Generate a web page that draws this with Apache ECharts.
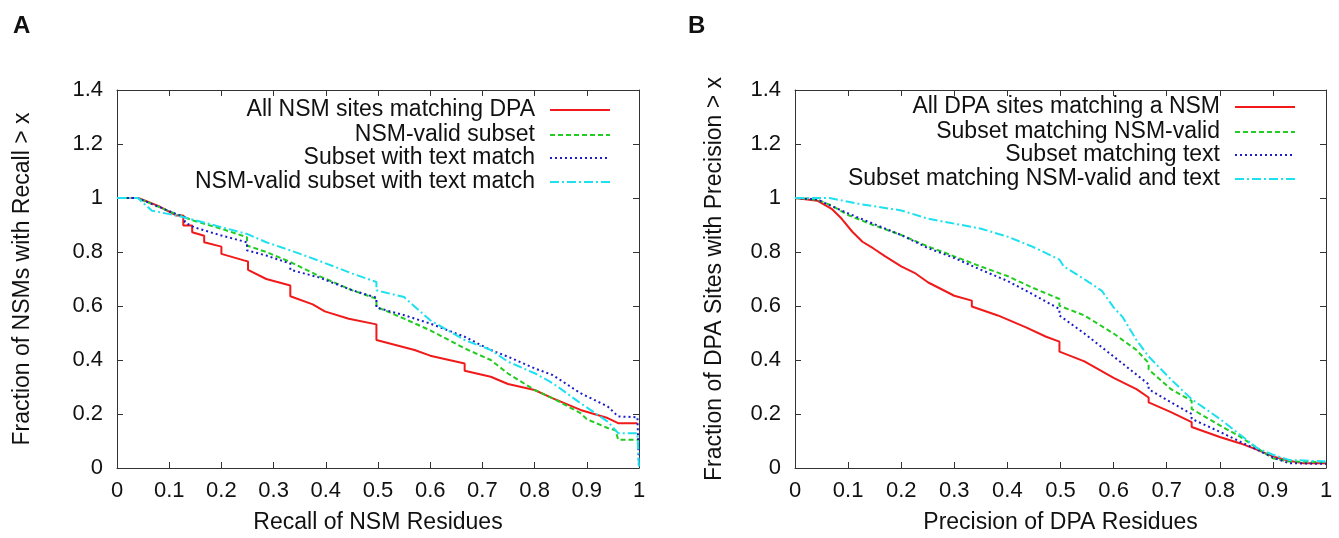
<!DOCTYPE html>
<html>
<head>
<meta charset="utf-8">
<script src="https://cdn.jsdelivr.net/npm/echarts@6/dist/echarts.min.js"></script>
<style>
html,body{margin:0;padding:0;background:#fff;}
#chart{width:1339px;height:538px;}
</style>
</head>
<body>
<div id="chart"></div>
<script>
// ---- Panel A data: Recall of NSM residues ----
const aNames = ['All NSM sites matching DPA','NSM-valid subset','Subset with text match','NSM-valid subset with text match'];
const aRed = [[0,1],[0.04,1],[0.054,0.99],[0.08,0.97],[0.114,0.935],[0.127,0.935],[0.127,0.898],[0.144,0.898],[0.144,0.873],[0.167,0.86],[0.167,0.836],[0.2,0.82],[0.2,0.793],[0.243,0.769],[0.251,0.765],[0.251,0.734],[0.286,0.70],[0.332,0.676],[0.332,0.636],[0.375,0.606],[0.398,0.58],[0.444,0.553],[0.497,0.532],[0.497,0.474],[0.57,0.437],[0.6,0.416],[0.666,0.387],[0.666,0.36],[0.716,0.338],[0.749,0.311],[0.8,0.289],[0.835,0.258],[0.888,0.215],[0.94,0.185],[0.96,0.166],[0.997,0.166]];
const aGreen = [[0,1],[0.04,1],[0.054,0.988],[0.114,0.94],[0.147,0.916],[0.2,0.886],[0.249,0.855],[0.249,0.824],[0.286,0.80],[0.332,0.763],[0.385,0.713],[0.451,0.658],[0.497,0.627],[0.497,0.597],[0.55,0.553],[0.6,0.51],[0.666,0.443],[0.716,0.40],[0.749,0.35],[0.8,0.289],[0.835,0.258],[0.888,0.203],[0.9,0.181],[0.94,0.148],[0.955,0.14],[0.96,0.105],[1,0.105]];
const aBlue = [[0,1],[0.04,1],[0.054,0.988],[0.114,0.94],[0.13,0.93],[0.13,0.91],[0.147,0.892],[0.2,0.861],[0.249,0.836],[0.249,0.806],[0.286,0.787],[0.332,0.757],[0.332,0.734],[0.385,0.707],[0.451,0.658],[0.497,0.631],[0.497,0.594],[0.55,0.566],[0.6,0.535],[0.666,0.486],[0.716,0.437],[0.749,0.412],[0.8,0.369],[0.835,0.344],[0.888,0.277],[0.94,0.228],[0.96,0.191],[0.997,0.188],[1,0]];
const aCyan = [[0,1],[0.04,1],[0.054,0.975],[0.067,0.953],[0.114,0.935],[0.147,0.919],[0.2,0.892],[0.249,0.867],[0.286,0.836],[0.332,0.806],[0.385,0.769],[0.451,0.72],[0.497,0.689],[0.497,0.658],[0.55,0.633],[0.6,0.547],[0.666,0.474],[0.716,0.437],[0.749,0.394],[0.8,0.351],[0.835,0.314],[0.888,0.24],[0.94,0.172],[0.96,0.129],[0.997,0.129],[1,0]];

// ---- Panel B data: Precision of DPA residues ----
const bNames = ['All DPA sites matching a NSM','Subset matching NSM-valid','Subset matching text','Subset matching NSM-valid and text'];
const bRed = [[0,1],[0.042,0.99],[0.069,0.96],[0.088,0.923],[0.108,0.875],[0.127,0.838],[0.147,0.814],[0.17,0.784],[0.2,0.747],[0.225,0.723],[0.251,0.687],[0.3,0.638],[0.333,0.62],[0.333,0.598],[0.382,0.565],[0.434,0.522],[0.473,0.486],[0.498,0.468],[0.498,0.431],[0.545,0.395],[0.6,0.334],[0.643,0.292],[0.666,0.261],[0.666,0.243],[0.708,0.207],[0.747,0.17],[0.747,0.152],[0.8,0.115],[0.839,0.091],[0.871,0.067],[0.9,0.043],[0.93,0.027],[0.956,0.018],[1,0.018]];
const bGreen = [[0,1],[0.042,0.994],[0.069,0.972],[0.101,0.936],[0.147,0.9],[0.2,0.863],[0.251,0.82],[0.3,0.784],[0.349,0.747],[0.4,0.711],[0.447,0.668],[0.498,0.626],[0.498,0.601],[0.545,0.565],[0.6,0.498],[0.643,0.437],[0.666,0.389],[0.666,0.365],[0.708,0.292],[0.747,0.249],[0.747,0.219],[0.8,0.158],[0.839,0.115],[0.871,0.073],[0.9,0.036],[0.93,0.024],[1,0.022]];
const bBlue = [[0,1],[0.042,0.994],[0.069,0.97],[0.101,0.942],[0.147,0.905],[0.2,0.863],[0.251,0.814],[0.3,0.778],[0.349,0.735],[0.4,0.693],[0.447,0.644],[0.498,0.589],[0.498,0.565],[0.545,0.498],[0.6,0.413],[0.643,0.346],[0.666,0.31],[0.666,0.292],[0.708,0.243],[0.747,0.2],[0.747,0.182],[0.8,0.134],[0.839,0.097],[0.871,0.067],[0.9,0.039],[0.93,0.018],[1,0.015]];
const bCyan = [[0,1],[0.065,1],[0.121,0.978],[0.2,0.954],[0.251,0.923],[0.3,0.905],[0.349,0.887],[0.4,0.857],[0.447,0.82],[0.498,0.772],[0.506,0.747],[0.545,0.699],[0.578,0.656],[0.6,0.595],[0.617,0.559],[0.643,0.474],[0.666,0.413],[0.708,0.328],[0.747,0.255],[0.8,0.182],[0.839,0.122],[0.871,0.073],[0.9,0.049],[0.93,0.03],[1,0.024]];

// ---- Axis ticks ----
const xTicks = [0,0.1,0.2,0.3,0.4,0.5,0.6,0.7,0.8,0.9,1];
const yTicks = [0,0.2,0.4,0.6,0.8,1,1.2,1.4];
const axisTitles = {ax:'Recall of NSM Residues', ay:'Fraction of NSMs with Recall > x', bx:'Precision of DPA Residues', by:'Fraction of DPA Sites with Precision > x'};

const colors = ['#f01a1a','#22cc22','#1c1cc8','#1ee0ee'];
const dashes = ['solid',[5,3],[2,3],[9,3,2,3]];
const FONT = 'Liberation Sans, Arial, Helvetica, sans-serif';
const FS = 22;
const FST = 23;

function xAx(grid, name, top) {
  return {
    type:'value', gridIndex:grid, min:0, max:1, interval:0.1,
    position: top ? 'top' : 'bottom',
    name: top ? '' : name, nameLocation:'middle', nameGap:43,
    nameTextStyle:{fontFamily:FONT, fontSize:FST, color:'#111'},
    axisLine:{show:true, onZero:false, lineStyle:{color:'#333', width:1}},
    axisTick:{show:true, inside:true, length:6, lineStyle:{color:'#333'}},
    axisLabel:{show:!top, margin:12, fontFamily:FONT, fontSize:FS, color:'#111',
      formatter: v => { const t = xTicks.find(k => Math.abs(k - v) < 1e-9); return t === undefined ? '' : String(t); }},
    splitLine:{show:false}
  };
}
function yAx(grid, name, right, gap) {
  return {
    type:'value', gridIndex:grid, min:0, max:1.4, interval:0.2,
    position: right ? 'right' : 'left',
    name: right ? '' : name, nameLocation:'middle', nameGap:gap,
    nameTextStyle:{fontFamily:FONT, fontSize:FST, color:'#111'},
    axisLine:{show:true, onZero:false, lineStyle:{color:'#333', width:1}},
    axisTick:{show:true, inside:true, length:6, lineStyle:{color:'#333'}},
    axisLabel:{show:!right, margin:14, fontFamily:FONT, fontSize:FS, color:'#111',
      formatter: v => { const t = yTicks.find(k => Math.abs(k - v) < 1e-9); return t === undefined ? '' : String(t); }},
    splitLine:{show:false}
  };
}

const seriesData = [[aRed,aGreen,aBlue,aCyan],[bRed,bGreen,bBlue,bCyan]];
const names = [aNames, bNames];
const series = [];
for (let g = 0; g < 2; g++) {
  for (let i = 0; i < 4; i++) {
    series.push({
      type:'line', name:names[g][i], xAxisIndex:g*2, yAxisIndex:g*2,
      data:seriesData[g][i], symbol:'none', smooth:false, z: 2+i,
      lineStyle:{color:colors[i], width:2, type:dashes[i]},
      itemStyle:{color:colors[i]}
    });
  }
}

const legends = [];
const legendRight = [728, 43];
const legendTops = [[98,123,146,170],[95,120,143,167]];
for (let g = 0; g < 2; g++) {
  for (let i = 0; i < 4; i++) {
    legends.push({
      data:[names[g][i]], right:legendRight[g], top:legendTops[g][i],
      orient:'horizontal', align:'right', padding:0,
      itemWidth:60, itemHeight:2, selectedMode:false,
      itemStyle:{opacity:0},
      lineStyle:{width:2},
      textStyle:{fontFamily:FONT, fontSize:FST, color:'#111', lineHeight:24, padding:[0,10,0,0]}
    });
  }
}

const chart = echarts.init(document.getElementById('chart'), null, {renderer:'canvas'});
chart.setOption({
  animation:false,
  backgroundColor:'#fff',
  grid:[
    {left:117, right:700, top:90, bottom:70, containLabel:false, outerBoundsMode:'none'},
    {left:795, right:13, top:90, bottom:70, containLabel:false, outerBoundsMode:'none'}
  ],
  xAxis:[xAx(0,axisTitles.ax,false), xAx(0,'',true), xAx(1,axisTitles.bx,false), xAx(1,'',true)],
  yAxis:[yAx(0,axisTitles.ay,false,83), yAx(0,'',true,0), yAx(1,axisTitles.by,false,69), yAx(1,'',true,0)],
  legend:legends,
  series:series,
  graphic:[
    {type:'text', left:13, top:14, style:{text:'A', font:'bold 24px ' + FONT, fill:'#111'}},
    {type:'text', left:688, top:14, style:{text:'B', font:'bold 24px ' + FONT, fill:'#111'}}
  ]
});
</script>
</body>
</html>
